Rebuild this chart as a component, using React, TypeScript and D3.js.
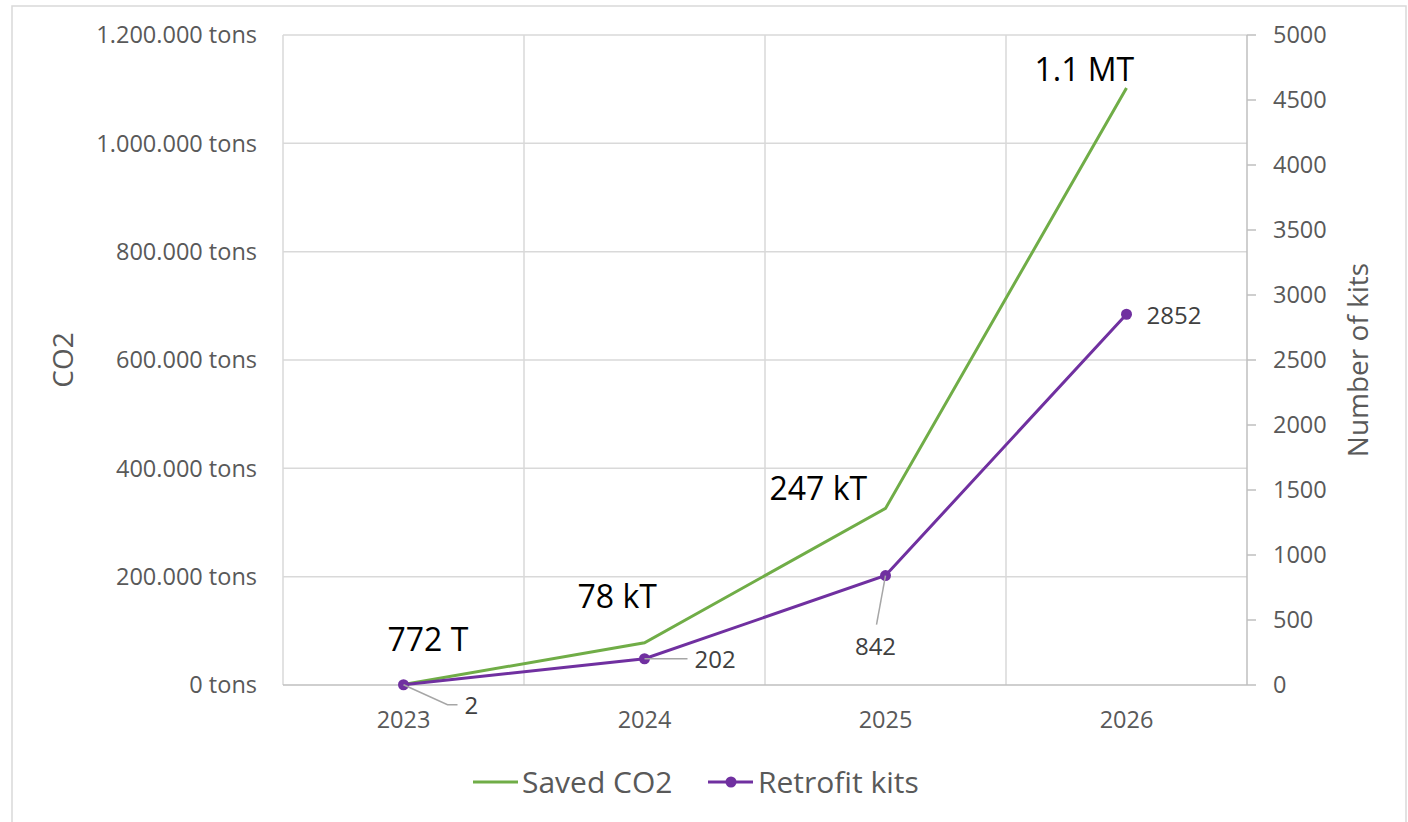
import React from "react"
import * as d3 from "d3"

const width = 1408
const height = 822
const plot = { left: 283, right: 1247, top: 35, bottom: 685 }

const years = ["2023", "2024", "2025", "2026"]
const savedCO2 = [772, 78000, 326000, 1102000]
const retrofitKits = [2, 202, 842, 2852]
const co2Notes = ["772 T", "78 kT", "247 kT", "1.1 MT"]
const leftTicks = [0, 200000, 400000, 600000, 800000, 1000000, 1200000]
const rightTicks = [0, 500, 1000, 1500, 2000, 2500, 3000, 3500, 4000, 4500, 5000]

const green = "#70AD47"
const purple = "#7030A0"
const grid = "#D9D9D9"
const font = "'Open Sans', 'Noto Sans', sans-serif"

const locale = d3.formatLocale({ decimal: ",", thousands: ".", grouping: [3], currency: ["", ""] })
const fmtTons = (v: number) => locale.format(",")(v) + " tons"

// note/label offsets from the data point (pixels)
const noteOffsets = [[-16, -34], [-67, -35], [-116, -8], [-92, -7]]

const App = () => {
  const x = d3.scaleBand().domain(years).range([plot.left, plot.right]).padding(0)
  const cx = (y: string) => (x(y) as number) + x.bandwidth() / 2
  const yL = d3.scaleLinear().domain([0, 1200000]).range([plot.bottom, plot.top])
  const yR = d3.scaleLinear().domain([0, 5000]).range([plot.bottom, plot.top])

  const co2Line = d3.line<number>().x((_, i) => cx(years[i])).y(d => yL(d))
  const kitLine = d3.line<number>().x((_, i) => cx(years[i])).y(d => yR(d))

  const boundaries = years.map(y => x(y) as number).concat([plot.right])

  const pts = retrofitKits.map((v, i) => ({ x: cx(years[i]), y: yR(v), v }))

  return (
    <svg width={width} height={height} style={{ position: "absolute", left: 0, top: 0, background: "#fff" }} fontFamily={font}>
      <rect x={12} y={6} width={1394} height={830} fill="#fff" stroke={grid} strokeWidth={1.5} />

      {/* horizontal grid */}
      {leftTicks.slice(1).map(t => (
        <line key={"h" + t} x1={plot.left} x2={plot.right} y1={yL(t)} y2={yL(t)} stroke={grid} strokeWidth={1.5} />
      ))}
      {/* vertical grid at category boundaries */}
      {boundaries.slice(0, -1).map((b, i) => (
        <line key={"v" + i} x1={b} x2={b} y1={plot.top} y2={plot.bottom} stroke={grid} strokeWidth={1.5} />
      ))}
      {/* axes */}
      <line x1={plot.left} x2={plot.right} y1={plot.bottom} y2={plot.bottom} stroke="#BFBFBF" strokeWidth={1.5} />
      <line x1={plot.right} x2={plot.right} y1={plot.top} y2={plot.bottom} stroke="#BFBFBF" strokeWidth={1.5} />
      {rightTicks.map(t => (
        <line key={"rt" + t} x1={plot.right} x2={plot.right + 9} y1={yR(t)} y2={yR(t)} stroke="#BFBFBF" strokeWidth={1.5} />
      ))}

      {/* left tick labels */}
      {leftTicks.map(t => (
        <text key={"lt" + t} x={257} y={yL(t)} dy="0.36em" textAnchor="end" fontSize={23.5} fill="#595959">
          {fmtTons(t)}
        </text>
      ))}
      {/* right tick labels */}
      {rightTicks.map(t => (
        <text key={"rl" + t} x={1273} y={yR(t)} dy="0.36em" fontSize={23.5} fill="#595959">
          {t}
        </text>
      ))}
      {/* x labels */}
      {years.map(y => (
        <text key={"x" + y} x={cx(y)} y={728} textAnchor="middle" fontSize={23.5} fill="#595959">
          {y}
        </text>
      ))}

      {/* axis titles */}
      <text transform="translate(73,360) rotate(-90)" textAnchor="middle" fontSize={28} fill="#595959">CO2</text>
      <text transform="translate(1368,360) rotate(-90)" textAnchor="middle" fontSize={28} fill="#595959">Number of kits</text>

      {/* series */}
      <path d={co2Line(savedCO2) || ""} fill="none" stroke={green} strokeWidth={3} />
      <path d={kitLine(retrofitKits) || ""} fill="none" stroke={purple} strokeWidth={3} />
      {pts.map((p, i) => (
        <circle key={"m" + i} cx={p.x} cy={p.y} r={5.5} fill={purple} />
      ))}

      {/* leader lines */}
      <polyline points={`${pts[0].x},${pts[0].y} ${pts[0].x + 44},${pts[0].y + 20} ${pts[0].x + 54},${pts[0].y + 20}`} fill="none" stroke="#A6A6A6" strokeWidth={1.5} />
      <line x1={pts[1].x} y1={pts[1].y} x2={pts[1].x + 43} y2={pts[1].y} stroke="#A6A6A6" strokeWidth={1.5} />
      <line x1={pts[2].x} y1={pts[2].y} x2={pts[2].x - 9} y2={pts[2].y + 49} stroke="#A6A6A6" strokeWidth={1.5} />

      {/* data labels for kits */}
      <text x={pts[0].x + 61} y={pts[0].y + 21} dy="0.36em" fontSize={24} fill="#404040">{pts[0].v}</text>
      <text x={pts[1].x + 50} y={pts[1].y + 1} dy="0.36em" fontSize={24} fill="#404040">{pts[1].v}</text>
      <text x={pts[2].x - 10} y={pts[2].y + 71} dy="0.36em" textAnchor="middle" fontSize={24} fill="#404040">{pts[2].v}</text>
      <text x={pts[3].x + 20} y={pts[3].y + 1} dy="0.36em" fontSize={24} fill="#404040">{pts[3].v}</text>

      {/* CO2 annotations */}
      {co2Notes.map((n, i) => (
        <text key={"n" + i} x={cx(years[i]) + noteOffsets[i][0]} y={yL(savedCO2[i]) + noteOffsets[i][1]} fontSize={32} fill="#000">
          {n}
        </text>
      ))}

      {/* legend */}
      <line x1={473} x2={518} y1={782} y2={782} stroke={green} strokeWidth={3} />
      <text x={522} y={782} dy="0.36em" fontSize={30} fill="#595959">Saved CO2</text>
      <line x1={708} x2={753} y1={782} y2={782} stroke={purple} strokeWidth={3} />
      <circle cx={731} cy={782} r={5.5} fill={purple} />
      <text x={758} y={782} dy="0.36em" fontSize={30} fill="#595959">Retrofit kits</text>
    </svg>
  )
}

export default App
